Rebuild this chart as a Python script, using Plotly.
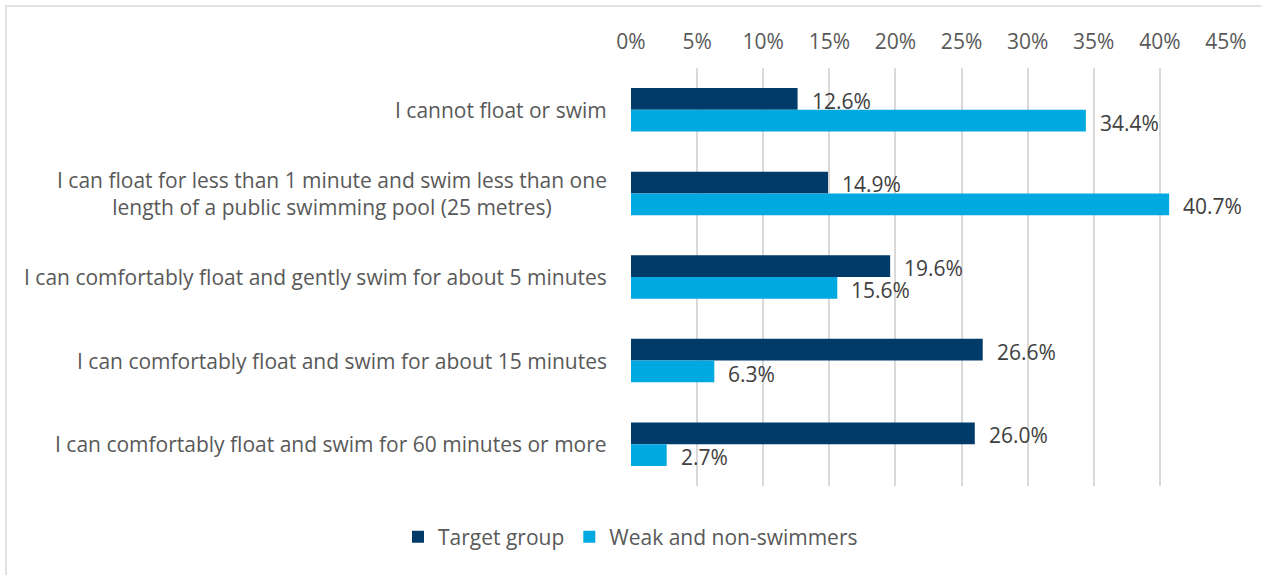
import plotly.graph_objects as go

categories = [
    "I cannot float or swim",
    "I can float for less than 1 minute and swim less than one<br>length of a public swimming pool (25 metres)",
    "I can comfortably float and gently swim for about 5 minutes",
    "I can comfortably float and swim for about 15 minutes",
    "I can comfortably float and swim for 60 minutes or more",
]
target_group = [12.6, 14.9, 19.6, 26.6, 26.0]
weak_non_swimmers = [34.4, 40.7, 15.6, 6.3, 2.7]
series_names = ["Target group", "Weak and non-swimmers"]
tick_vals = [0, 5, 10, 15, 20, 25, 30, 35, 40, 45]
tick_text = [f"{v}%" for v in tick_vals]

DARK = "#003B6A"
LIGHT = "#00A9E0"
FONT = "Open Sans"
FS = 21

W, H = 1261, 575
ML, MR, MT, MB = 631, 35, 68, 89

fig = go.Figure()
annotations = []
series = [(series_names[0], target_group, DARK, 9),
          (series_names[1], weak_non_swimmers, LIGHT, -13)]
for name, vals, col, ysh in series:
    fig.add_trace(go.Bar(
        y=categories, x=vals, name=name, orientation="h",
        marker=dict(color=col, line=dict(width=0)),
    ))
    for c, v in zip(categories, vals):
        annotations.append(dict(
            xref="x", yref="y", x=v, y=c, xanchor="left", yanchor="middle",
            xshift=12, yshift=ysh, text=f"{v:.1f}%", showarrow=False,
            font=dict(family=FONT, size=FS, color="#404040"),
        ))

for c in categories:
    annotations.append(dict(
        xref="paper", yref="y", x=0, y=c, xanchor="right", yanchor="middle",
        xshift=-22, text=c, showarrow=False, align="center",
        font=dict(family=FONT, size=FS, color="#595959"),
    ))

pw = W - ML - MR
ph = H - MT - MB
shapes = [dict(
    type="rect", xref="paper", yref="paper",
    x0=(6 - ML) / pw, x1=(W + 5 - ML) / pw,
    y0=-(MB + 5) / ph, y1=1 + (MT - 6) / ph,
    line=dict(color="#D9D9D9", width=1.5), fillcolor="rgba(0,0,0,0)", layer="below",
)]

fig.update_layout(
    width=W, height=H,
    margin=dict(l=ML, r=MR, t=MT, b=MB),
    paper_bgcolor="white", plot_bgcolor="white",
    barmode="group", bargap=0.48, bargroupgap=0,
    font=dict(family=FONT, size=FS, color="#595959"),
    xaxis=dict(
        side="top", range=[0, 45], tickvals=tick_vals, ticktext=tick_text,
        showgrid=True, gridcolor="#D9D9D9", gridwidth=1.5,
        zeroline=False, showline=False, ticks="", ticklabelstandoff=14,
        tickfont=dict(family=FONT, size=FS, color="#595959"),
    ),
    yaxis=dict(autorange="reversed", showticklabels=False, showgrid=False,
               zeroline=False, showline=False, ticks=""),
    legend=dict(orientation="h", x=0.5, xref="container", xanchor="center",
                y=38 / H, yref="container", yanchor="middle",
                font=dict(family=FONT, size=FS, color="#595959"),
                traceorder="normal", itemwidth=30),
    annotations=annotations,
    shapes=shapes,
)

fig.write_html("out.html")
